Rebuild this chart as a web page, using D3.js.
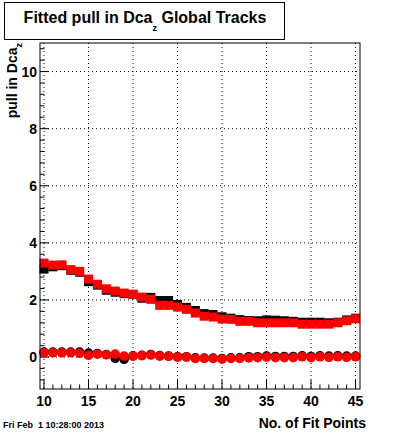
<!DOCTYPE html>
<html>
<head>
<meta charset="utf-8">
<script src="https://cdn.jsdelivr.net/npm/d3@7"></script>
<style>
body { margin: 0; background: #fff; }
text { font-family: "Liberation Sans", Arial, sans-serif; font-weight: bold; }
</style>
</head>
<body>
<script>
var WIDTH = 400, HEIGHT = 433;

// number of fit points
var fitPoints = d3.range(10, 46);

// pull width (upper series)
var blackSquares = [3.08, 3.16, 3.20, 3.04, 2.97, 2.64, 2.52, 2.34, 2.27, 2.22, 2.20, 2.06, 2.09, 1.98, 1.98, 1.84,
  1.74, 1.63, 1.52, 1.49, 1.41, 1.36, 1.31, 1.28, 1.27, 1.30, 1.29, 1.27, 1.25, 1.22, 1.22, 1.22, 1.20, 1.22, 1.30, 1.36];
var redSquares = [3.29, 3.22, 3.23, 3.06, 3.00, 2.73, 2.55, 2.39, 2.31, 2.24, 2.19, 2.10, 2.02, 1.81, 1.81, 1.75,
  1.67, 1.54, 1.43, 1.40, 1.33, 1.32, 1.25, 1.25, 1.20, 1.20, 1.20, 1.20, 1.20, 1.15, 1.15, 1.15, 1.15, 1.20, 1.27, 1.34];

// pull mean (lower series)
var blackCircles = [0.17, 0.17, 0.17, 0.17, 0.17, 0.14, 0.12, 0.09, -0.05, -0.08, 0.04, 0.06, 0.09, 0.05, 0.03, 0.01,
  0.01, -0.03, -0.04, -0.04, -0.05, -0.03, -0.03, 0.01, 0.01, 0.03, 0.02, 0.02, 0.02, 0.04, 0.02, 0.04, 0.03, 0.04, 0.03, 0.03];
var redCircles = [0.15, 0.15, 0.15, 0.15, 0.13, 0.06, 0.10, 0.08, 0.10, 0.03, 0.03, 0.05, 0.07, 0.03, 0.03, 0.00,
  0.00, -0.05, -0.05, -0.05, -0.07, -0.05, -0.05, -0.03, -0.02, 0.00, -0.02, -0.02, -0.02, 0.01, -0.02, 0.01, -0.01, 0.01, -0.01, 0.01];

var xTicks = [10, 15, 20, 25, 30, 35, 40, 45];
var yTicks = [0, 2, 4, 6, 8, 10];

var L = 40, R = 360, T = 43, B = 389;

var svg = d3.select("body").append("svg").attr("width", WIDTH).attr("height", HEIGHT);
svg.append("rect").attr("width", WIDTH).attr("height", HEIGHT).attr("fill", "#fff");

var x = d3.scaleLinear().domain([9.55, 45.5]).range([L, R]);
var y = d3.scaleLinear().domain([-1.12, 11.0]).range([B, T]);

// grid
svg.append("g").selectAll("line").data(xTicks).enter().append("line")
  .attr("x1", d => x(d)).attr("x2", d => x(d)).attr("y1", T).attr("y2", B)
  .attr("stroke", "#000").attr("stroke-dasharray", "1,3");
svg.append("g").selectAll("line").data(yTicks).enter().append("line")
  .attr("x1", L).attr("x2", R).attr("y1", d => y(d)).attr("y2", d => y(d))
  .attr("stroke", "#000").attr("stroke-dasharray", "1,3");

// ticks
var xMinor = d3.range(10, 46);
svg.append("g").selectAll("line").data(xMinor).enter().append("line")
  .attr("x1", d => x(d)).attr("x2", d => x(d))
  .attr("y1", B).attr("y2", d => B - (d % 5 === 0 ? 9 : 4.5))
  .attr("stroke", "#000");
var yMinor = d3.range(-1.2, 11.01, 0.4).filter(d => d > -1.12);
svg.append("g").selectAll("line").data(yMinor).enter().append("line")
  .attr("y1", d => y(d)).attr("y2", d => y(d))
  .attr("x1", L).attr("x2", d => L + (Math.abs(Math.round(d / 2) * 2 - d) < 0.01 ? 9 : 4.5))
  .attr("stroke", "#000");

// markers
function squares(vals, color) {
  svg.append("g").selectAll("rect").data(vals).enter().append("rect")
    .attr("x", (d, i) => x(fitPoints[i]) - 4.5).attr("y", d => y(d) - 4.5)
    .attr("width", 9).attr("height", 9).attr("fill", color);
}
function circles(vals, color) {
  svg.append("g").selectAll("circle").data(vals).enter().append("circle")
    .attr("cx", (d, i) => x(fitPoints[i])).attr("cy", d => y(d))
    .attr("r", 4.8).attr("fill", color);
}
squares(blackSquares, "#000");
circles(blackCircles, "#000");
squares(redSquares, "#ff0000");
circles(redCircles, "#ff0000");

// frame
svg.append("rect").attr("x", L).attr("y", T).attr("width", R - L).attr("height", B - T)
  .attr("fill", "none").attr("stroke", "#000");

// tick labels
svg.append("g").selectAll("text").data(xTicks).enter().append("text")
  .attr("x", d => x(d)).attr("y", 406).attr("text-anchor", "middle")
  .attr("font-size", 14).text(d => d);
svg.append("g").selectAll("text").data(yTicks).enter().append("text")
  .attr("x", 37).attr("y", d => y(d) + 5).attr("text-anchor", "end")
  .attr("font-size", 14).text(d => d);

// title box
svg.append("rect").attr("x", 4.5).attr("y", 2.5).attr("width", 280).attr("height", 37)
  .attr("fill", "#fff").attr("stroke", "#000");
var title = svg.append("text").attr("x", 145).attr("y", 23).attr("text-anchor", "middle").attr("font-size", 16);
title.append("tspan").text("Fitted pull in Dca");
title.append("tspan").attr("font-size", 9).attr("dy", 8).text("z");
title.append("tspan").attr("dy", -8).text(" Global Tracks");

// axis labels
var yl = svg.append("text").attr("transform", "translate(17,43) rotate(-90)")
  .attr("text-anchor", "end").attr("font-size", 14);
yl.append("tspan").text("pull in Dca");
yl.append("tspan").attr("font-size", 9).attr("dy", 5).text("z");

svg.append("text").attr("x", 366).attr("y", 428).attr("text-anchor", "end")
  .attr("font-size", 14).text("No. of Fit Points");

svg.append("text").attr("x", 3).attr("y", 428).attr("font-size", 9)
  .style("white-space", "pre").text("Fri Feb  1 10:28:00 2013");
</script>
</body>
</html>
